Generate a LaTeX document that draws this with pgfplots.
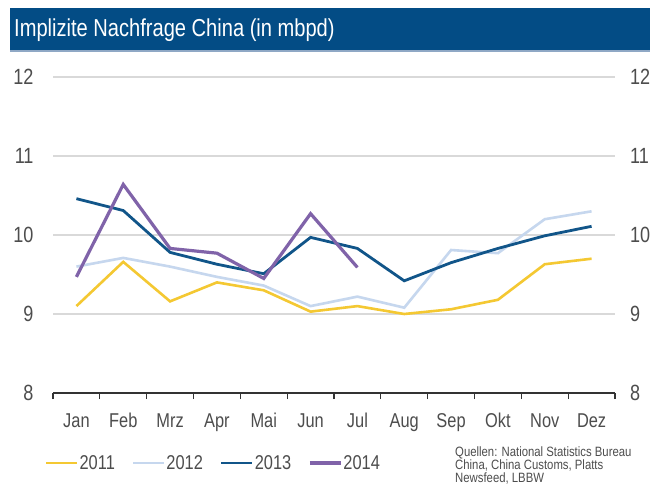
\documentclass[border=0pt]{standalone}
\usepackage{pgfplots}
\pgfplotsset{compat=1.18}
\usepackage{fontspec}
\setmainfont{Liberation Sans}[FakeStretch=0.82]
\newfontfamily\srcfont{Liberation Sans}[FakeStretch=0.84]
\definecolor{titleblue}{HTML}{034C85}
\definecolor{titleline}{HTML}{8FA8C5}
\definecolor{cyellow}{HTML}{F4C832}
\definecolor{clight}{HTML}{C6D7EE}
\definecolor{cdark}{HTML}{115589}
\definecolor{cpurple}{HTML}{8063A9}
\definecolor{gridgray}{HTML}{D9D9D9}
\definecolor{txtgray}{HTML}{4D4D4D}
\begin{document}
\begin{tikzpicture}[x=1pt,y=1pt]
\path[use as bounding box] (0,0) rectangle (650,-490);
\fill[white] (0,0) rectangle (650,-490);
\fill[titleblue] (10,-8) rectangle (650,-51);
\draw[titleline, line width=1.5pt] (10,-51) -- (650,-51);
\node[anchor=west, inner sep=0pt, text=white, font=\fontsize{24.5pt}{28pt}\selectfont] at (14,-30) {Implizite Nachfrage China (in mbpd)};

\begin{axis}[
  at={(53pt,-393pt)}, anchor=south west,
  scale only axis, width=562pt, height=316pt,
  xmin=0.5, xmax=12.5, ymin=8, ymax=12,
  ytick={8,9,10,11,12},
  xtick={1,...,12},
  xticklabels={Jan,Feb,Mrz,Apr,Mai,Jun,Jul,Aug,Sep,Okt,Nov,Dez},
  minor xtick={0.5,1.5,...,12.5},
  separate axis lines,
  axis x line*=bottom,
  axis y line*=left,
  x axis line style={-, draw=black!80, line width=1.5pt},
  y axis line style={draw=none},
  ytick style={draw=none},
  major x tick style={draw=none},
  minor x tick style={draw=black!80, line width=1.2pt},
  minor tick length=6pt,
  tick align=outside,
  ymajorgrids,
  grid style={gridgray, line width=1.8pt},
  /pgf/number format/assume math mode=true,
  yticklabel style={anchor=east, inner sep=0pt, xshift=-15pt, text=txtgray, font=\fontsize{22pt}{26pt}\selectfont},
  xticklabel style={anchor=base, inner sep=0pt, yshift=-30pt, text=txtgray, font=\fontsize{20pt}{24pt}\selectfont},
  legend columns=4,
  legend style={at={(-0.0142,-0.2215)}, anchor=west, draw=none, fill=none, inner sep=0pt, outer sep=0pt,
    font=\fontsize{20pt}{24pt}\selectfont, text=txtgray,
    nodes={inner sep=0pt, anchor=west},
    /tikz/every odd column/.append style={column sep=1pt},
    /tikz/every even column/.append style={column sep=17pt}},
  legend image code/.code={\draw[#1] (0pt,0pt) -- (31pt,0pt);},
]
\addplot[cyellow, line width=2.6pt] coordinates {(1,9.10) (2,9.66) (3,9.16) (4,9.40) (5,9.30) (6,9.03) (7,9.10) (8,9.00) (9,9.06) (10,9.18) (11,9.63) (12,9.70)};
\addlegendentry{2011}
\addplot[clight, line width=2.6pt] coordinates {(1,9.60) (2,9.71) (3,9.60) (4,9.47) (5,9.36) (6,9.10) (7,9.22) (8,9.08) (9,9.81) (10,9.77) (11,10.20) (12,10.30)};
\addlegendentry{2012}
\addplot[cdark, line width=2.8pt] coordinates {(1,10.46) (2,10.31) (3,9.78) (4,9.63) (5,9.51) (6,9.97) (7,9.83) (8,9.42) (9,9.65) (10,9.83) (11,9.99) (12,10.11)};
\addlegendentry{2013}
\addplot[cpurple, line width=3.2pt] coordinates {(1,9.47) (2,10.64) (3,9.83) (4,9.77) (5,9.45) (6,10.27) (7,9.59)};
\addlegendentry{2014}
\end{axis}

\begin{axis}[
  at={(53pt,-393pt)}, anchor=south west,
  scale only axis, width=562pt, height=316pt,
  xmin=0.5, xmax=12.5, ymin=8, ymax=12,
  ytick={8,9,10,11,12},
  hide x axis,
  axis y line*=right,
  y axis line style={draw=none},
  ytick style={draw=none},
  /pgf/number format/assume math mode=true,
  yticklabel style={anchor=west, inner sep=0pt, xshift=15pt, text=txtgray, font=\fontsize{22pt}{26pt}\selectfont},
]
\end{axis}

\node[anchor=north west, inner sep=0pt, align=left, text=txtgray, font=\srcfont\fontsize{13.5pt}{13pt}\selectfont] at (455,-447) {Quellen: National Statistics Bureau\\China, China Customs, Platts\\Newsfeed, LBBW};
\end{tikzpicture}
\end{document}
